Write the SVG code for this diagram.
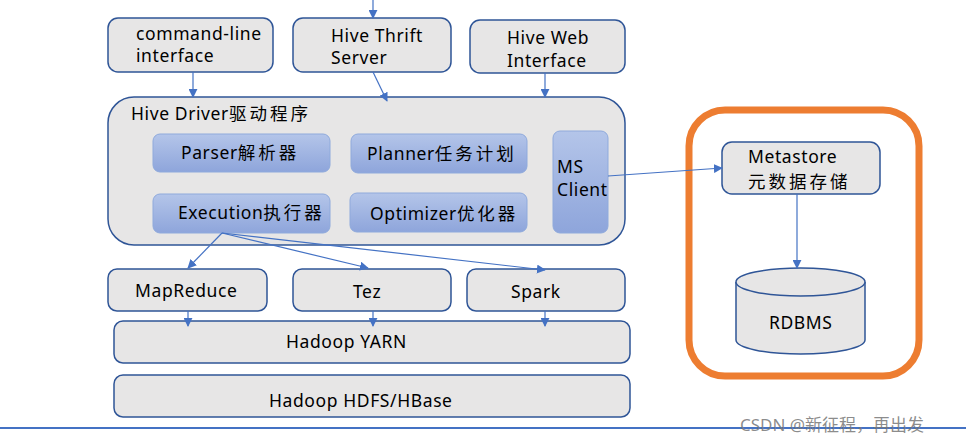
<svg xmlns="http://www.w3.org/2000/svg" width="966" height="443" viewBox="0 0 966 443">
<defs>
<style>
.box{fill:#e7e6e6;stroke:#2f5597;stroke-width:1.5}
.inner{fill:url(#g);stroke:#8faadc;stroke-width:1}
.t{font-family:"Noto Sans","Noto Sans CJK SC",sans-serif;font-size:17.5px;letter-spacing:0.6px;fill:#000}
.k{letter-spacing:3px}
.ln{stroke:#4472c4;stroke-width:1.2;fill:none;marker-end:url(#ah)}
</style>
<linearGradient id="g" x1="0" y1="0" x2="0" y2="1">
<stop offset="0" stop-color="#b4c5e9"/>
<stop offset="1" stop-color="#8ea5db"/>
</linearGradient>
<marker id="ah" viewBox="0 0 10 10" refX="9" refY="5" markerWidth="9" markerHeight="9" markerUnits="userSpaceOnUse" orient="auto">
<path d="M0,0 L10,5 L0,10 z" fill="#4472c4"/>
</marker>
</defs>
<rect width="966" height="443" fill="#fff"/>

<g id="cli"><rect class="box" x="108" y="18" width="165" height="54" rx="10"/>
<text class="t" x="136" y="40">command-line</text><text class="t" x="136" y="62">interface</text></g>
<g id="thrift"><rect class="box" x="293" y="18" width="158" height="54" rx="10"/>
<text class="t" x="331" y="42">Hive Thrift</text><text class="t" x="331" y="64">Server</text></g>
<g id="web"><rect class="box" x="470" y="20" width="155" height="53" rx="10"/>
<text class="t" x="507" y="44">Hive Web</text><text class="t" x="507" y="66.5">Interface</text></g>

<g id="driver"><rect class="box" x="108" y="97" width="517" height="148" rx="26"/>
<text class="t" x="131" y="120">Hive Driver<tspan class="k">驱动程序</tspan></text></g>
<g id="parser"><rect class="inner" x="153" y="134" width="177" height="38" rx="7"/>
<text class="t" x="181" y="159">Parser<tspan class="k">解析器</tspan></text></g>
<g id="planner"><rect class="inner" x="351" y="134" width="176" height="39" rx="7"/>
<text class="t" x="367" y="160">Planner<tspan class="k">任务计划</tspan></text></g>
<g id="execution"><rect class="inner" x="153" y="194" width="177" height="39" rx="7"/>
<text class="t" x="178" y="219">Execution<tspan class="k">执行器</tspan></text></g>
<g id="optimizer"><rect class="inner" x="350" y="193" width="177" height="39" rx="7"/>
<text class="t" x="370" y="220">Optimizer<tspan class="k">优化器</tspan></text></g>
<g id="msclient"><rect class="inner" x="553" y="131" width="55" height="102" rx="7"/>
<text class="t" x="557" y="173">MS</text><text class="t" x="557" y="195.5">Client</text></g>

<g id="mapreduce"><rect class="box" x="108" y="269" width="159" height="42" rx="9"/>
<text class="t" x="135" y="297">MapReduce</text></g>
<g id="tez"><rect class="box" x="293" y="269" width="158" height="42" rx="9"/>
<text class="t" x="353" y="298">Tez</text></g>
<g id="spark"><rect class="box" x="467" y="269" width="158" height="42" rx="9"/>
<text class="t" x="511" y="298">Spark</text></g>
<g id="yarn"><rect class="box" x="114" y="321" width="516" height="42" rx="9"/>
<text class="t" x="286" y="348">Hadoop YARN</text></g>
<g id="hdfs"><rect class="box" x="114" y="375" width="516" height="42" rx="9"/>
<text class="t" x="269" y="407">Hadoop HDFS/HBase</text></g>

<g id="metagroup"><rect x="689" y="110" width="230" height="266" rx="36" fill="none" stroke="#ed7d31" stroke-width="7"/></g>
<g id="metastore"><rect class="box" x="722" y="142" width="158" height="52" rx="10"/>
<text class="t" x="748" y="163">Metastore</text><text class="t" x="748" y="188"><tspan class="k">元数据存储</tspan></text></g>
<g id="rdbms">
<path class="box" d="M736,282 L736,340 A64.5,14 0 0 0 865,340 L865,282"/>
<ellipse class="box" cx="800.5" cy="282" rx="64.5" ry="14"/>
<text class="t" x="769" y="329">RDBMS</text></g>

<g id="connectors">
<line class="ln" x1="373" y1="0" x2="373" y2="18"/>
<line class="ln" x1="193" y1="72" x2="193" y2="97"/>
<line class="ln" x1="373" y1="72" x2="387" y2="101"/>
<line class="ln" x1="545" y1="73" x2="545" y2="97"/>
<line class="ln" x1="608" y1="176" x2="722" y2="168"/>
<line class="ln" x1="797" y1="194" x2="797" y2="268"/>
<line class="ln" x1="222" y1="233" x2="188" y2="268"/>
<line class="ln" x1="222" y1="233" x2="368" y2="268"/>
<line class="ln" x1="222" y1="233" x2="545" y2="270"/>
<line class="ln" x1="188" y1="311" x2="188" y2="326"/>
<line class="ln" x1="373" y1="311" x2="373" y2="326"/>
<line class="ln" x1="545" y1="311" x2="545" y2="326"/>
</g>
<line x1="0" y1="428" x2="966" y2="428" stroke="#4472c4" stroke-width="2"/>
<text x="740" y="431" font-family="'Noto Sans','Noto Sans CJK SC',sans-serif" font-size="17" fill="#777" fill-opacity="0.85">CSDN @新征程，再出发</text>
</svg>
